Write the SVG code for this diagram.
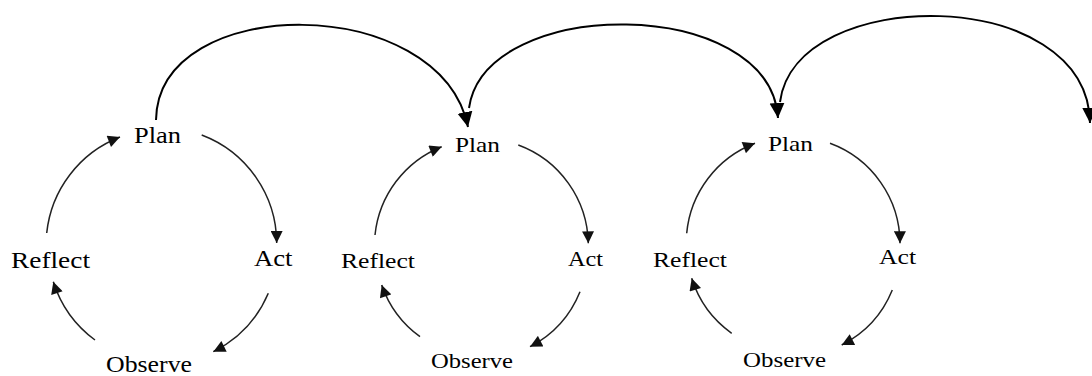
<svg xmlns="http://www.w3.org/2000/svg" width="1092" height="376" viewBox="0 0 1092 376">
  <style>
    .lbl { font-family: "Liberation Serif", "Times New Roman", serif; font-size: 23px; fill: #000; }
    .sm { font-size: 22px; }
    .big { fill: none; stroke: #000; stroke-width: 2; }
    .cyc { fill: none; stroke: #222; stroke-width: 1.5; }
  </style>
  <defs>
    <marker id="bigHead" viewBox="0 0 10 10" refX="10" refY="5" markerUnits="userSpaceOnUse" markerWidth="15" markerHeight="16" orient="auto">
      <path d="M0,0 L10,5 L0,10 z" fill="#000"/>
    </marker>
    <marker id="cycHead" viewBox="0 0 10 10" refX="10" refY="5" markerUnits="userSpaceOnUse" markerWidth="13" markerHeight="12" orient="auto">
      <path d="M0,0 L10,5 L0,10 z" fill="#111"/>
    </marker>
  </defs>

  <g id="connectors">
    <!-- big arcs linking cycles -->
    <path class="big" d="M156,120 C158,-8 440,-8 468,127" marker-end="url(#bigHead)"/>
    <path class="big" d="M469,108 C485,-5 770,-5 778,118" marker-end="url(#bigHead)"/>
    <path class="big" d="M780,102 C795,-16 1088,-16 1090,123" marker-end="url(#bigHead)"/>

    <!-- cycle 1 -->
    <path class="cyc" d="M46.7,233 A116,116 0 0 1 120,137" marker-end="url(#cycHead)"/>
    <path class="cyc" d="M201.7,135 A116,116 0 0 1 276.7,243" marker-end="url(#cycHead)"/>
    <path class="cyc" d="M268.3,293.3 A116,116 0 0 1 213.3,351.7" marker-end="url(#cycHead)"/>
    <path class="cyc" d="M95,340 A116,116 0 0 1 53.3,281.7" marker-end="url(#cycHead)"/>

    <!-- cycle 2 -->
    <path class="cyc" d="M375,235 A107,107 0 0 1 441.7,146.7" marker-end="url(#cycHead)"/>
    <path class="cyc" d="M518.3,145 A107,107 0 0 1 588.3,243.3" marker-end="url(#cycHead)"/>
    <path class="cyc" d="M580,291.7 A107,107 0 0 1 530,346.7" marker-end="url(#cycHead)"/>
    <path class="cyc" d="M420,336.7 A107,107 0 0 1 381.7,285" marker-end="url(#cycHead)"/>

    <!-- cycle 3 -->
    <path class="cyc" d="M686.7,233.3 A107,107 0 0 1 755,143.3" marker-end="url(#cycHead)"/>
    <path class="cyc" d="M830,143.3 A107,107 0 0 1 900,243.3" marker-end="url(#cycHead)"/>
    <path class="cyc" d="M892.3,290 A107,107 0 0 1 841.7,345" marker-end="url(#cycHead)"/>
    <path class="cyc" d="M731.7,333.3 A107,107 0 0 1 691.7,278.3" marker-end="url(#cycHead)"/>
  </g>

  <!-- cycle 1 nodes -->
  <g id="plan1"><text class="lbl" x="134" y="143" textLength="47" lengthAdjust="spacingAndGlyphs">Plan</text></g>
  <g id="act1"><text class="lbl" x="254" y="265.5" textLength="38.5" lengthAdjust="spacingAndGlyphs">Act</text></g>
  <g id="observe1"><text class="lbl" x="106" y="372" textLength="86" lengthAdjust="spacingAndGlyphs">Observe</text></g>
  <g id="reflect1"><text class="lbl" x="11" y="267.5" textLength="79" lengthAdjust="spacingAndGlyphs">Reflect</text></g>

  <!-- cycle 2 nodes -->
  <g id="plan2"><text class="lbl sm" x="455" y="152" textLength="45" lengthAdjust="spacingAndGlyphs">Plan</text></g>
  <g id="act2"><text class="lbl sm" x="568" y="265.5" textLength="35" lengthAdjust="spacingAndGlyphs">Act</text></g>
  <g id="observe2"><text class="lbl sm" x="431" y="368" textLength="82" lengthAdjust="spacingAndGlyphs">Observe</text></g>
  <g id="reflect2"><text class="lbl sm" x="341" y="268" textLength="74" lengthAdjust="spacingAndGlyphs">Reflect</text></g>

  <!-- cycle 3 nodes -->
  <g id="plan3"><text class="lbl sm" x="768" y="150.5" textLength="45" lengthAdjust="spacingAndGlyphs">Plan</text></g>
  <g id="act3"><text class="lbl sm" x="879" y="264" textLength="37" lengthAdjust="spacingAndGlyphs">Act</text></g>
  <g id="observe3"><text class="lbl sm" x="743" y="366.5" textLength="83" lengthAdjust="spacingAndGlyphs">Observe</text></g>
  <g id="reflect3"><text class="lbl sm" x="653" y="266.5" textLength="74" lengthAdjust="spacingAndGlyphs">Reflect</text></g>
</svg>
